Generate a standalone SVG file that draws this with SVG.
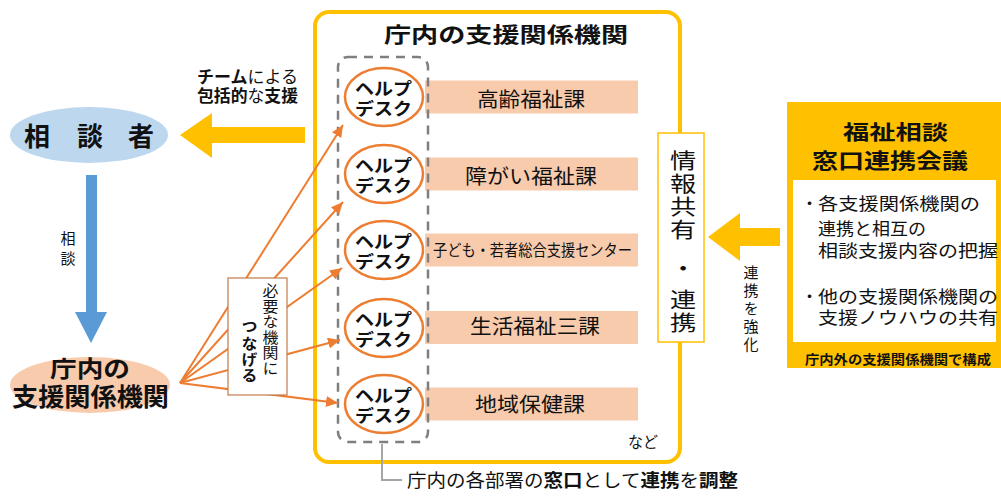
<svg xmlns="http://www.w3.org/2000/svg" width="1001" height="497" viewBox="0 0 1001 497">
<defs>
<style>
text { font-family: "Liberation Sans", "Noto Sans CJK JP", sans-serif; fill: #111; }
.b { font-weight: 700; }
.n { font-weight: 400; }
.v { writing-mode: vertical-rl; }
.hd { fill: #fff; stroke: #ED7D31; stroke-width: 2.5; }
.hdt { font-weight: 700; font-size: 17.5px; }
.bar { fill: #F8CBAD; }
.gold { fill: #FFC000; }
.fan { stroke: #ED7D31; stroke-width: 2; fill: none; marker-end: url(#ah); }
.m { text-anchor: middle; }
</style>
<marker id="ah" markerUnits="userSpaceOnUse" markerWidth="13" markerHeight="11" refX="12" refY="5.5" orient="auto"><path d="M0,0 L12,5.5 L0,11 z" fill="#ED7D31"/></marker>
</defs>
<rect width="1001" height="497" fill="#fff"/>

<g id="main-frame">
<rect x="315" y="12" width="365" height="450" rx="14" fill="#fff" stroke="#FFC000" stroke-width="4"/>
<text class="b" x="384" y="42" font-size="21" textLength="244" lengthAdjust="spacingAndGlyphs">庁内の支援関係機関</text>
<text x="628" y="448" font-size="16" textLength="30" lengthAdjust="spacingAndGlyphs">など</text>
</g>

<g id="dept-1"><rect class="bar" x="425" y="80.5" width="213" height="33"/><text x="477" y="107" font-size="20" textLength="108" lengthAdjust="spacingAndGlyphs">高齢福祉課</text></g>
<g id="dept-2"><rect class="bar" x="425" y="157.5" width="213" height="33"/><text x="465" y="184" font-size="20" textLength="132" lengthAdjust="spacingAndGlyphs">障がい福祉課</text></g>
<g id="dept-3"><rect class="bar" x="425" y="233.5" width="213" height="33"/><text x="433" y="256" font-size="16" textLength="199" lengthAdjust="spacingAndGlyphs">子ども・若者総合支援センター</text></g>
<g id="dept-4"><rect class="bar" x="425" y="311" width="213" height="33"/><text x="470" y="334" font-size="20" textLength="130" lengthAdjust="spacingAndGlyphs">生活福祉三課</text></g>
<g id="dept-5"><rect class="bar" x="425" y="387.5" width="213" height="33"/><text x="475" y="412" font-size="20" textLength="110" lengthAdjust="spacingAndGlyphs">地域保健課</text></g>

<g id="helpdesk-group">
<rect x="338" y="57" width="90" height="385" rx="10" fill="none" stroke="#7F7F7F" stroke-width="2.5" stroke-dasharray="9 7"/>
</g>

<g id="helpdesk-1"><ellipse class="hd" cx="384" cy="97" rx="39" ry="29"/><text class="hdt" x="355" y="94.5" textLength="57" lengthAdjust="spacingAndGlyphs">ヘルプ</text><text class="hdt" x="355" y="114.5" textLength="57" lengthAdjust="spacingAndGlyphs">デスク</text></g>
<g id="helpdesk-2"><ellipse class="hd" cx="384" cy="174" rx="39" ry="29"/><text class="hdt" x="355" y="171.5" textLength="57" lengthAdjust="spacingAndGlyphs">ヘルプ</text><text class="hdt" x="355" y="191.5" textLength="57" lengthAdjust="spacingAndGlyphs">デスク</text></g>
<g id="helpdesk-3"><ellipse class="hd" cx="384" cy="250" rx="39" ry="29"/><text class="hdt" x="355" y="247.5" textLength="57" lengthAdjust="spacingAndGlyphs">ヘルプ</text><text class="hdt" x="355" y="267.5" textLength="57" lengthAdjust="spacingAndGlyphs">デスク</text></g>
<g id="helpdesk-4"><ellipse class="hd" cx="384" cy="328" rx="39" ry="29"/><text class="hdt" x="355" y="325.5" textLength="57" lengthAdjust="spacingAndGlyphs">ヘルプ</text><text class="hdt" x="355" y="345.5" textLength="57" lengthAdjust="spacingAndGlyphs">デスク</text></g>
<g id="helpdesk-5"><ellipse class="hd" cx="384" cy="404" rx="39" ry="29"/><text class="hdt" x="355" y="401.5" textLength="57" lengthAdjust="spacingAndGlyphs">ヘルプ</text><text class="hdt" x="355" y="421.5" textLength="57" lengthAdjust="spacingAndGlyphs">デスク</text></g>

<g id="info-share">
<rect x="658" y="133" width="46" height="209" fill="#fff" stroke="#FFC000" stroke-width="1.5"/>
<g transform="translate(681,0) scale(1.25,1)">
<text class="v" x="0" y="149.5" font-size="21" letter-spacing="2">情報共有</text>
<text class="v" x="0" y="257.5" font-size="21">・</text>
<text class="v" x="0" y="288.5" font-size="21" letter-spacing="2">連携</text>
</g>
</g>

<g id="council">
<rect class="gold" x="787" y="102" width="214" height="266"/>
<rect x="793" y="180" width="203" height="162" fill="#fff"/>
<text class="b" x="843" y="140" font-size="20" textLength="105" lengthAdjust="spacingAndGlyphs">福祉相談</text>
<text class="b" x="812" y="168" font-size="21" textLength="156" lengthAdjust="spacingAndGlyphs">窓口連携会議</text>
<text x="801" y="210" font-size="17">・</text>
<text x="818" y="210" font-size="17" textLength="162" lengthAdjust="spacingAndGlyphs">各支援関係機関の</text>
<text x="818" y="235" font-size="17" textLength="108" lengthAdjust="spacingAndGlyphs">連携と相互の</text>
<text x="818" y="257" font-size="17" textLength="180" lengthAdjust="spacingAndGlyphs">相談支援内容の把握</text>
<text x="801" y="303" font-size="17">・</text>
<text x="818" y="303" font-size="17" textLength="180" lengthAdjust="spacingAndGlyphs">他の支援関係機関の</text>
<text x="818" y="324" font-size="17" textLength="180" lengthAdjust="spacingAndGlyphs">支援ノウハウの共有</text>
<text class="b" x="805" y="364" font-size="13" textLength="186" lengthAdjust="spacingAndGlyphs">庁内外の支援関係機関で構成</text>
</g>

<g id="client">
<ellipse cx="89" cy="135" rx="79" ry="28" fill="#BDD7EE"/>
<text class="b m" x="37" y="146" font-size="26">相</text>
<text class="b m" x="90" y="146" font-size="26">談</text>
<text class="b m" x="141" y="146" font-size="26">者</text>
</g>

<g id="agencies">
<ellipse cx="90" cy="385" rx="80" ry="28" fill="#F8CBAD"/>
<text class="b" x="50" y="377" font-size="23" textLength="80" lengthAdjust="spacingAndGlyphs">庁内の</text>
<text class="b" x="12" y="406" font-size="25" textLength="157" lengthAdjust="spacingAndGlyphs">支援関係機関</text>
</g>

<g id="connectors">
<polygon class="gold" points="180,135 212,113 212,127 305,127 305,143 212,143 212,158"/>
<text class="b" x="197" y="83" font-size="16.5" textLength="101" lengthAdjust="spacingAndGlyphs">チーム<tspan class="n">による</tspan></text>
<text class="b" x="197" y="102" font-size="16.5" textLength="101" lengthAdjust="spacingAndGlyphs">包括的<tspan class="n">な</tspan>支援</text>
<polygon fill="#5B9BD5" points="86,175 97,175 97,312 107,312 91,343 75,312 86,312"/>
<text class="v" x="67" y="231" font-size="15" letter-spacing="5">相談</text>
<line class="fan" x1="180" y1="383" x2="343" y2="125"/>
<line class="fan" x1="180" y1="383" x2="343" y2="202"/>
<line class="fan" x1="180" y1="383" x2="342" y2="268"/>
<line class="fan" x1="180" y1="383" x2="340" y2="340"/>
<line class="fan" x1="180" y1="383" x2="338" y2="403"/>
<polygon class="gold" points="708,237 740,213 740,228 780,228 780,246 740,246 740,261"/>
<text class="v" x="750" y="264.5" font-size="15" letter-spacing="3">連携を強化</text>
<polyline points="382,444 382,480 402,480" fill="none" stroke="#A6A6A6" stroke-width="2"/>
</g>

<g id="connect-label">
<rect x="228" y="278" width="59" height="117" fill="#fff" stroke="#C47A4A" stroke-width="1.2"/>
<g transform="translate(269,0) scale(1.1,1)">
<text class="v" x="0" y="283.5" font-size="14.5" letter-spacing="1">必要な機関に</text>
</g>
<g transform="translate(248,0) scale(1.1,1)">
<text class="v b" x="0" y="319.5" font-size="14.5" letter-spacing="1.8">つなげる</text>
</g>
</g>

<g id="window-note">
<text x="407" y="487" font-size="18" textLength="331" lengthAdjust="spacingAndGlyphs">庁内の各部署の<tspan class="b">窓口</tspan>として<tspan class="b">連携</tspan>を<tspan class="b">調整</tspan></text>
</g>
</svg>
